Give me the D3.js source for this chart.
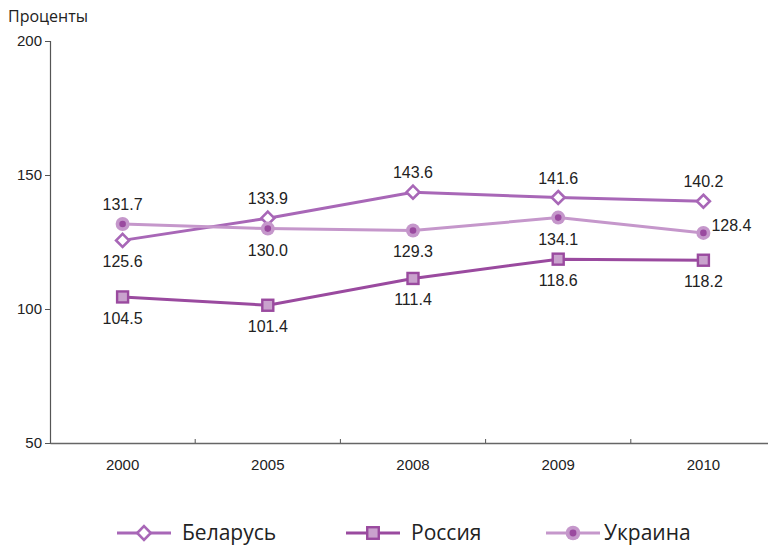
<!DOCTYPE html>
<html>
<head>
<meta charset="utf-8">
<script src="https://cdn.jsdelivr.net/npm/d3@7"></script>
<style>
  body { margin: 0; background: #fff; }
  svg { display: block; }
</style>
</head>
<body>
<div id="chart"></div>
<script>
var years = ["2000", "2005", "2008", "2009", "2010"];
var belarus = [125.6, 133.9, 143.6, 141.6, 140.2];
var russia = [104.5, 101.4, 111.4, 118.6, 118.2];
var ukraine = [131.7, 130.0, 129.3, 134.1, 128.4];
var yTicks = [50, 100, 150, 200];
var seriesNames = ["Беларусь", "Россия", "Украина"];

// label placement per point: "a" above, "b" below, "r" right
var belarusPos = ["b", "a", "a", "a", "a"];
var russiaPos = ["b", "b", "b", "b", "b"];
var ukrainePos = ["a", "b", "b", "b", "r"];

var W = 768, H = 546;
var svg = d3.select("#chart").append("svg")
  .attr("width", W)
  .attr("height", H);

var x = d3.scaleBand().domain(years).range([50, 776]);
var y = d3.scaleLinear().domain([50, 200]).range([443, 41]);
var cx = function(d, i) { return x(years[i]) + x.bandwidth() / 2; };

var numFont = "'Liberation Sans', Arial, sans-serif";
var textFont = "'Open Sans', 'Noto Sans', sans-serif";

// axes
var yAxis = svg.append("g").attr("transform", "translate(50,0)")
  .call(d3.axisLeft(y).tickValues(yTicks).tickSize(5).tickPadding(3));
yAxis.select(".domain").attr("stroke", "#555").attr("stroke-width", 1.2);
yAxis.selectAll(".tick line").attr("stroke", "#555");
yAxis.selectAll("text").attr("font-family", numFont).attr("font-size", 15).attr("fill", "#222");

var xAxis = svg.append("g").attr("transform", "translate(0,443)")
  .call(d3.axisBottom(x).tickSize(0).tickPadding(16));
xAxis.select(".domain").attr("stroke", "#666").attr("stroke-width", 1.5);
xAxis.selectAll("text").attr("font-family", numFont).attr("font-size", 15).attr("fill", "#222");
// small separators between categories
svg.append("g").selectAll("line")
  .data(years.slice(1))
  .join("line")
  .attr("x1", function(d) { return x(d); })
  .attr("x2", function(d) { return x(d); })
  .attr("y1", 443).attr("y2", 439)
  .attr("stroke", "#555");

svg.append("text")
  .attr("x", 8).attr("y", 22)
  .attr("font-family", textFont).attr("font-size", 16).attr("fill", "#222")
  .text("Проценты");

var series = [
  { name: seriesNames[0], vals: belarus, pos: belarusPos, color: "#a867b7", marker: "diamond" },
  { name: seriesNames[1], vals: russia, pos: russiaPos, color: "#9a4a9f", marker: "square" },
  { name: seriesNames[2], vals: ukraine, pos: ukrainePos, color: "#c597cb", marker: "circle" }
];

function drawMarker(g, type, color, sc) {
  sc = sc || 1;
  if (type == "diamond") {
    var a = 6.5 * sc;
    g.append("path").attr("d", "M0," + (-a) + "L" + a + ",0L0," + a + "L" + (-a) + ",0Z")
      .attr("fill", "#fff").attr("stroke", color).attr("stroke-width", 2.6);
  } else if (type == "square") {
    var h = 5.5 * sc;
    g.append("rect").attr("x", -h).attr("y", -h).attr("width", 2 * h).attr("height", 2 * h)
      .attr("fill", "#c9a2cd").attr("stroke", color).attr("stroke-width", 2.4);
  } else {
    g.append("circle").attr("r", 7 * sc).attr("fill", color);
    g.append("circle").attr("r", 3.3 * sc).attr("fill", "#9a4a9f");
  }
}

var line = d3.line().x(cx).y(function(d) { return y(d); });

// draw order: Russia, Belarus, Ukraine
[1, 0, 2].forEach(function(k) {
  var s = series[k];
  svg.append("path")
    .datum(s.vals)
    .attr("d", line)
    .attr("fill", "none")
    .attr("stroke", s.color)
    .attr("stroke-width", 3);
});
[1, 0, 2].forEach(function(k) {
  var s = series[k];
  s.vals.forEach(function(v, i) {
    var g = svg.append("g").attr("transform", "translate(" + cx(v, i) + "," + y(v) + ")");
    drawMarker(g, s.marker, s.color);
  });
});

// value labels
series.forEach(function(s) {
  svg.append("g").selectAll("text")
    .data(s.vals)
    .join("text")
    .attr("x", function(d, i) { return s.pos[i] == "r" ? cx(d, i) + 8 : cx(d, i); })
    .attr("y", function(d, i) {
      if (s.pos[i] == "a") return y(d) - 14;
      if (s.pos[i] == "r") return y(d) - 2;
      return y(d) + 27;
    })
    .attr("text-anchor", function(d, i) { return s.pos[i] == "r" ? "start" : "middle"; })
    .attr("font-family", numFont)
    .attr("font-size", 16)
    .attr("fill", "#222")
    .text(function(d) { return d.toFixed(1); });
});

// legend
var legendX = [117, 346, 546];
series.forEach(function(s, k) {
  var lg = svg.append("g").attr("transform", "translate(" + legendX[k] + ",533)");
  lg.append("line").attr("x1", 0).attr("x2", 54).attr("y1", 0).attr("y2", 0)
    .attr("stroke", s.color).attr("stroke-width", 3);
  var m = lg.append("g").attr("transform", "translate(27,0)");
  drawMarker(m, s.marker, s.color, 1.05);
  lg.append("text").attr("x", k == 2 ? 58 : 65).attr("y", 6.5)
    .attr("font-family", textFont).attr("font-size", 21).attr("fill", "#222")
    .text(s.name);
});
</script>
</body>
</html>
